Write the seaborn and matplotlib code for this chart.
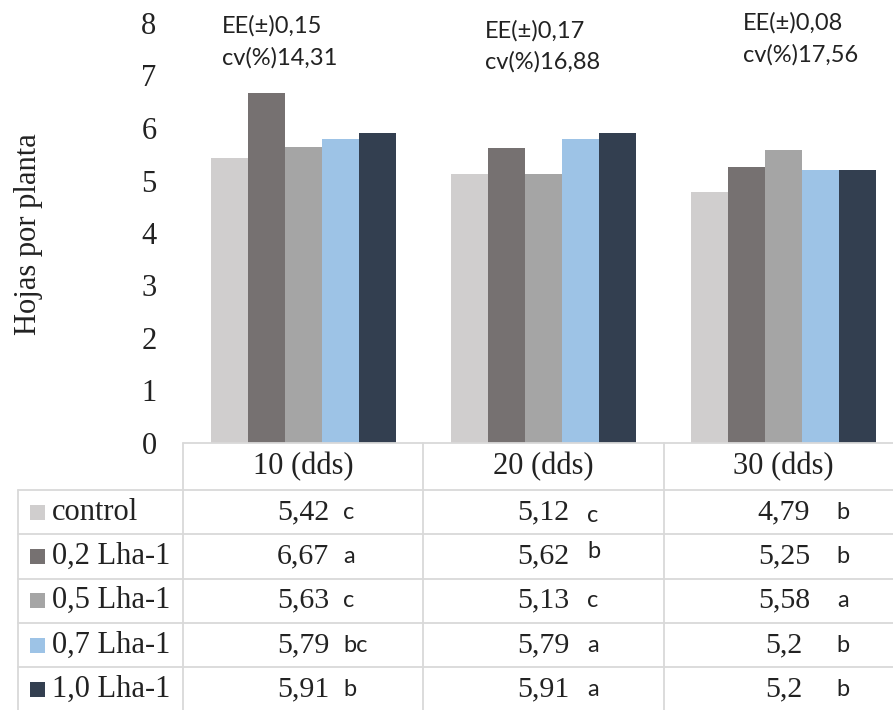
import pandas as pd
import matplotlib
matplotlib.use("Agg")
import matplotlib.pyplot as plt
from matplotlib.patches import Rectangle
import seaborn as sns

# datos
dias = ["10 (dds)", "20 (dds)", "30 (dds)"]
tratamientos = ["control", "0,2 Lha-1", "0,5 Lha-1", "0,7 Lha-1", "1,0 Lha-1"]
hojas_10 = [5.42, 6.67, 5.63, 5.79, 5.91]
hojas_20 = [5.12, 5.62, 5.13, 5.79, 5.91]
hojas_30 = [4.79, 5.25, 5.58, 5.2, 5.2]
letras_10 = ["c", "a", "c", "bc", "b"]
letras_20 = ["c", "b", "c", "a", "a"]
letras_30 = ["b", "b", "a", "b", "b"]
ee = ["0,15", "0,17", "0,08"]
cv = ["14,31", "16,88", "17,56"]
colores = ["#D0CECE", "#767171", "#A5A5A5", "#9DC3E6", "#333F50"]

hojas = [hojas_10, hojas_20, hojas_30]
letras = [letras_10, letras_20, letras_30]

rows = []
for d, vals in zip(dias, hojas):
    for t, v in zip(tratamientos, vals):
        rows.append({"dia": d, "tratamiento": t, "hojas": v})
df = pd.DataFrame(rows)

sns.set_style("white")
SERIF = "Liberation Serif"
SANS = "Lato"
TXT = "#222222"
LINE = "#D9D9D9"

W, H = 893, 710
fig = plt.figure(figsize=(W / 100, H / 100), dpi=100)

# area del grafico en pixeles
x0, y0, y8 = 183, 443, 23
colw = 240.3
ax = fig.add_axes([x0 / W, 1 - y0 / H, 3 * colw / W, (y0 - y8) / H])
sns.barplot(data=df, x="dia", y="hojas", hue="tratamiento", order=dias,
            hue_order=tratamientos, palette=colores, width=0.77,
            linewidth=0, saturation=1, legend=False, ax=ax)
ax.set_xlim(-0.5, 2.5)
ax.set_ylim(0, 8)
ax.set_yticks(range(0, 9))
ax.tick_params(axis="y", length=0, pad=19, labelsize=22, labelcolor=TXT)
ax.tick_params(axis="x", length=0, labelbottom=False)
for lab in ax.get_yticklabels():
    lab.set_fontfamily(SERIF)
ax.set_xlabel("")
ax.set_ylabel("")
sns.despine(ax=ax, left=True, bottom=True)
ax.set_facecolor("none")

fig.text(29 / W, 1 - 234 / H, "Hojas por planta", rotation=90, ha="center",
         va="center", fontsize=22, family=SERIF, color=TXT)

# capa superior en coordenadas de pixel para la tabla
ov = fig.add_axes([0, 0, 1, 1])
ov.set_xlim(0, W)
ov.set_ylim(H, 0)
ov.axis("off")
ov.patch.set_alpha(0)

# anotaciones EE y cv
ann_x = [222, 485, 743]
ann_y = [(26, 58), (31, 62), (23, 55)]
for i in range(3):
    ov.text(ann_x[i], ann_y[i][0], f"EE(\u00b1){ee[i]}", ha="left", va="center",
            fontsize=17, family=SANS, color=TXT)
    ov.text(ann_x[i], ann_y[i][1], f"cv(%){cv[i]}", ha="left", va="center",
            fontsize=17, family=SANS, color=TXT)

# lineas de la tabla
row_top = 490
row_h = 44.3
lw = 1.3
ov.plot([x0, W], [y0, y0], color=LINE, lw=lw)
for k in range(5):
    y = row_top + k * row_h
    ov.plot([18, W], [y, y], color=LINE, lw=lw)
ov.plot([18, 18], [row_top, H], color=LINE, lw=lw)
for j in range(3):
    xv = x0 + j * colw
    ov.plot([xv, xv], [y0, H], color=LINE, lw=lw)

# encabezados
for j, d in enumerate(dias):
    ov.text(x0 + (j + 0.5) * colw, 467, d, ha="center", va="center",
            fontsize=22, family=SERIF, color=TXT)

# leyenda y valores
letter_dx = [40, 44, 53]
letter_dy = [[0, 0, 0, 0, 0], [3, -5, 0, 0, 0], [0, 0, 0, 0, 0]]
for i, t in enumerate(tratamientos):
    yc = row_top + (i + 0.5) * row_h
    ov.add_patch(Rectangle((30, yc - 7.5), 15, 15, color=colores[i], lw=0))
    ov.text(52, yc, t, ha="left", va="center", fontsize=22, family=SERIF,
            color=TXT)
    for j in range(3):
        xc = x0 + (j + 0.5) * colw
        num = f"{hojas[j][i]:g}".replace(".", ",")
        ov.text(xc, yc, num, ha="center", va="center", fontsize=21.5,
                family=SERIF, color=TXT)
        ov.text(xc + letter_dx[j], yc + letter_dy[j][i], letras[j][i],
                ha="left", va="center", fontsize=17, family=SANS, color=TXT)

fig.savefig("out.png", dpi=100)
